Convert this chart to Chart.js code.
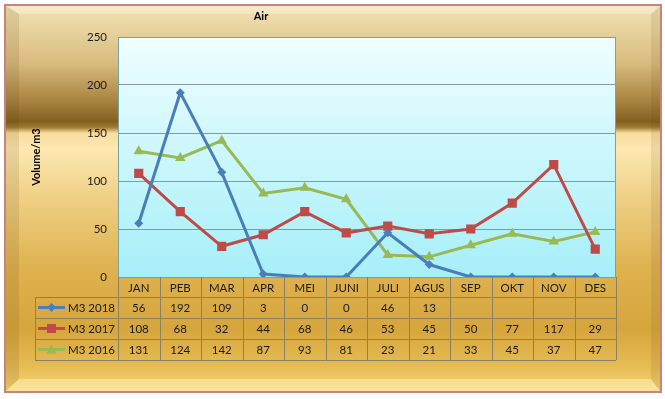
<!DOCTYPE html>
<html>
<head>
<meta charset="utf-8">
<script src="https://cdn.jsdelivr.net/npm/chart.js@4.4.0/dist/chart.umd.min.js"></script>
<style>
  html, body { margin: 0; padding: 0; background: #fff; }
  #wadah { width: 665px; height: 399px; position: relative; }
</style>
</head>
<body>
<div id="wadah"><canvas id="grafik"></canvas></div>
<script>
// data pemakaian air per bulan (m3)
const bulan = ['JAN', 'PEB', 'MAR', 'APR', 'MEI', 'JUNI', 'JULI', 'AGUS', 'SEP', 'OKT', 'NOV', 'DES'];
const m3_2018 = [56, 192, 109, 3, 0, 0, 46, 13, null, null, null, null];
const m3_2017 = [108, 68, 32, 44, 68, 46, 53, 45, 50, 77, 117, 29];
const m3_2016 = [131, 124, 142, 87, 93, 81, 23, 21, 33, 45, 37, 47];
const labelSeri = ['M3 2018', 'M3 2017', 'M3 2016'];
const sumbuY = { min: 0, max: 250, langkah: 50 };

const warna = { biru: '#4a7ebb', merah: '#be4b48', hijau: '#98b954' };
const FONT = 'Lato, "Liberation Sans", sans-serif';

// seperti Excel: sel kosong digambar sebagai nol
const plot2018 = m3_2018.map(v => v === null ? 0 : v);

const seri = [
  { label: labelSeri[0], nilai: m3_2018, warna: warna.biru, gaya: 'rectRot' },
  { label: labelSeri[1], nilai: m3_2017, warna: warna.merah, gaya: 'rect' },
  { label: labelSeri[2], nilai: m3_2016, warna: warna.hijau, gaya: 'triangle' }
];

function gambarPenanda(ctx, gaya, x, y, w) {
  ctx.save();
  ctx.fillStyle = w;
  ctx.beginPath();
  if (gaya === 'rectRot') {
    ctx.moveTo(x, y - 4.5); ctx.lineTo(x + 4.5, y); ctx.lineTo(x, y + 4.5); ctx.lineTo(x - 4.5, y);
  } else if (gaya === 'rect') {
    ctx.rect(x - 4.5, y - 4.5, 9, 9);
  } else {
    ctx.moveTo(x, y - 5); ctx.lineTo(x + 5, y + 4); ctx.lineTo(x - 5, y + 4);
  }
  ctx.closePath();
  ctx.fill();
  ctx.restore();
}

// bingkai emas + latar area plot
const bingkai = {
  id: 'bingkai',
  beforeDraw(chart) {
    const ctx = chart.ctx;
    const W = chart.width, H = chart.height;
    const a = chart.chartArea;
    ctx.save();
    ctx.fillStyle = '#ffffff';
    ctx.fillRect(0, 0, W, H);

    const x0 = 6, y0 = 6, x1 = 660, y1 = 391;
    const g = ctx.createLinearGradient(0, y0, 0, y1);
    g.addColorStop(0.00, '#f2e2b6');
    g.addColorStop(0.05, '#ead6a2');
    g.addColorStop(0.15, '#d8bb7e');
    g.addColorStop(0.25, '#a7813e');
    g.addColorStop(0.30, '#83601f');
    g.addColorStop(0.315, '#a07a33');
    g.addColorStop(0.33, '#f8dd9c');
    g.addColorStop(0.37, '#fde8b3');
    g.addColorStop(0.50, '#efcf84');
    g.addColorStop(0.68, '#dfb250');
    g.addColorStop(0.84, '#d6a63d');
    g.addColorStop(0.94, '#e7bd55');
    g.addColorStop(1.00, '#f4d77c');
    ctx.fillStyle = g;
    ctx.fillRect(x0, y0, x1 - x0, y1 - y0);

    // bevel
    const b = { l: 13, t: 8, r: 9, btm: 12 };
    ctx.fillStyle = 'rgba(255,255,255,0.28)';
    ctx.beginPath();
    ctx.moveTo(x0, y0); ctx.lineTo(x1, y0); ctx.lineTo(x1 - b.r, y0 + b.t); ctx.lineTo(x0 + b.l, y0 + b.t);
    ctx.closePath(); ctx.fill();
    ctx.fillStyle = 'rgba(90,60,10,0.12)';
    ctx.beginPath();
    ctx.moveTo(x0, y0); ctx.lineTo(x0 + b.l, y0 + b.t); ctx.lineTo(x0 + b.l, y1 - b.btm); ctx.lineTo(x0, y1);
    ctx.closePath(); ctx.fill();
    ctx.fillStyle = 'rgba(90,60,10,0.10)';
    ctx.beginPath();
    ctx.moveTo(x1, y0); ctx.lineTo(x1 - b.r, y0 + b.t); ctx.lineTo(x1 - b.r, y1 - b.btm); ctx.lineTo(x1, y1);
    ctx.closePath(); ctx.fill();
    ctx.fillStyle = 'rgba(255,245,190,0.45)';
    ctx.beginPath();
    ctx.moveTo(x0, y1); ctx.lineTo(x0 + b.l, y1 - b.btm); ctx.lineTo(x1 - b.r, y1 - b.btm); ctx.lineTo(x1, y1);
    ctx.closePath(); ctx.fill();

    ctx.strokeStyle = '#c4857c';
    ctx.lineWidth = 2;
    ctx.strokeRect(x0 - 1, y0 - 1, x1 - x0 + 2, y1 - y0 + 2);

    // latar area plot
    const gp = ctx.createLinearGradient(0, a.top, 0, a.bottom);
    gp.addColorStop(0, '#effeff');
    gp.addColorStop(1, '#a6eff9');
    ctx.fillStyle = gp;
    ctx.fillRect(a.left, a.top, a.right - a.left, a.bottom - a.top);

    // judul
    ctx.fillStyle = '#000';
    ctx.font = 'bold 11px ' + FONT;
    ctx.textAlign = 'center';
    ctx.textBaseline = 'middle';
    ctx.fillText('Air', 261, 16);
    ctx.restore();
  },
  beforeDatasetsDraw(chart) {
    const ctx = chart.ctx, a = chart.chartArea;
    ctx.save();
    ctx.strokeStyle = '#74a3aa';
    ctx.lineWidth = 1;
    ctx.strokeRect(a.left + 0.5, a.top + 0.5, a.right - a.left - 1, a.bottom - a.top);
    ctx.restore();
  }
};

// tabel data di bawah grafik
const tabelData = {
  id: 'tabelData',
  afterDraw(chart) {
    const ctx = chart.ctx, a = chart.chartArea, sx = chart.scales.x;
    const lebar = (a.right - a.left) / bulan.length;
    const kiri = 35, hHead = 20, hBaris = 21;
    const yTop = a.bottom, yData = yTop + hHead, yBawah = yData + hBaris * seri.length;
    ctx.save();
    ctx.strokeStyle = '#8d8060';
    ctx.lineWidth = 1;
    ctx.beginPath();
    for (let i = 0; i <= bulan.length; i++) {
      const x = Math.round(a.left + i * lebar) + 0.5;
      ctx.moveTo(x, yTop); ctx.lineTo(x, yBawah);
    }
    ctx.moveTo(kiri + 0.5, yData); ctx.lineTo(kiri + 0.5, yBawah);
    for (let r = 0; r <= seri.length; r++) {
      const y = yData + r * hBaris + 0.5;
      ctx.moveTo(kiri, y); ctx.lineTo(a.right, y);
    }
    ctx.stroke();

    ctx.fillStyle = '#1a1a1a';
    ctx.font = '11.5px ' + FONT;
    ctx.textAlign = 'center';
    ctx.textBaseline = 'middle';
    bulan.forEach((b, i) => {
      ctx.fillText(b, sx.getPixelForValue(i), yTop + hHead / 2 + 1);
    });
    seri.forEach((s, r) => {
      const yc = yData + r * hBaris + hBaris / 2 + 1;
      s.nilai.forEach((v, i) => {
        if (v !== null) ctx.fillText(String(v), sx.getPixelForValue(i), yc);
      });
      // kunci legenda
      ctx.save();
      ctx.strokeStyle = s.warna;
      ctx.lineWidth = 3;
      ctx.beginPath();
      ctx.moveTo(38, yc - 1); ctx.lineTo(65, yc - 1);
      ctx.stroke();
      gambarPenanda(ctx, s.gaya, 51.5, yc - 1, s.warna);
      ctx.restore();
      ctx.textAlign = 'left';
      ctx.fillText(s.label, 68, yc);
      ctx.textAlign = 'center';
    });
    ctx.restore();
  }
};

new Chart(document.getElementById('grafik'), {
  type: 'line',
  data: {
    labels: bulan,
    datasets: [
      {
        label: labelSeri[0],
        data: plot2018,
        borderColor: warna.biru,
        backgroundColor: warna.biru,
        borderWidth: 3,
        pointStyle: 'rectRot',
        pointRadius: 4.5,
        pointBorderWidth: 0
      },
      {
        label: labelSeri[1],
        data: m3_2017,
        borderColor: warna.merah,
        backgroundColor: warna.merah,
        borderWidth: 3,
        pointStyle: 'rect',
        pointRadius: 6.5,
        pointBorderWidth: 0
      },
      {
        label: labelSeri[2],
        data: m3_2016,
        borderColor: warna.hijau,
        backgroundColor: warna.hijau,
        borderWidth: 3,
        pointStyle: 'triangle',
        pointRadius: 6,
        pointBorderWidth: 0
      }
    ]
  },
  options: {
    responsive: true,
    maintainAspectRatio: false,
    animation: false,
    layout: { padding: { left: 26, top: 37, right: 49, bottom: 122 } },
    plugins: {
      legend: { display: false },
      title: { display: false },
      tooltip: { enabled: false }
    },
    scales: {
      x: {
        display: false,
        offset: true
      },
      y: {
        min: sumbuY.min,
        max: sumbuY.max,
        afterFit: s => { s.width = 92; },
        ticks: {
          stepSize: sumbuY.langkah,
          padding: 11,
          color: '#1a1a1a',
          font: { family: FONT, size: 11.5 }
        },
        grid: { color: '#8a979c', lineWidth: 1, drawTicks: false },
        border: { display: false },
        title: {
          display: true,
          text: 'Volume/m3',
          color: '#000',
          font: { family: FONT, size: 11, weight: 'bold' },
          padding: { top: 4, bottom: 4 }
        }
      }
    }
  },
  plugins: [bingkai, tabelData]
});
</script>
</body>
</html>
